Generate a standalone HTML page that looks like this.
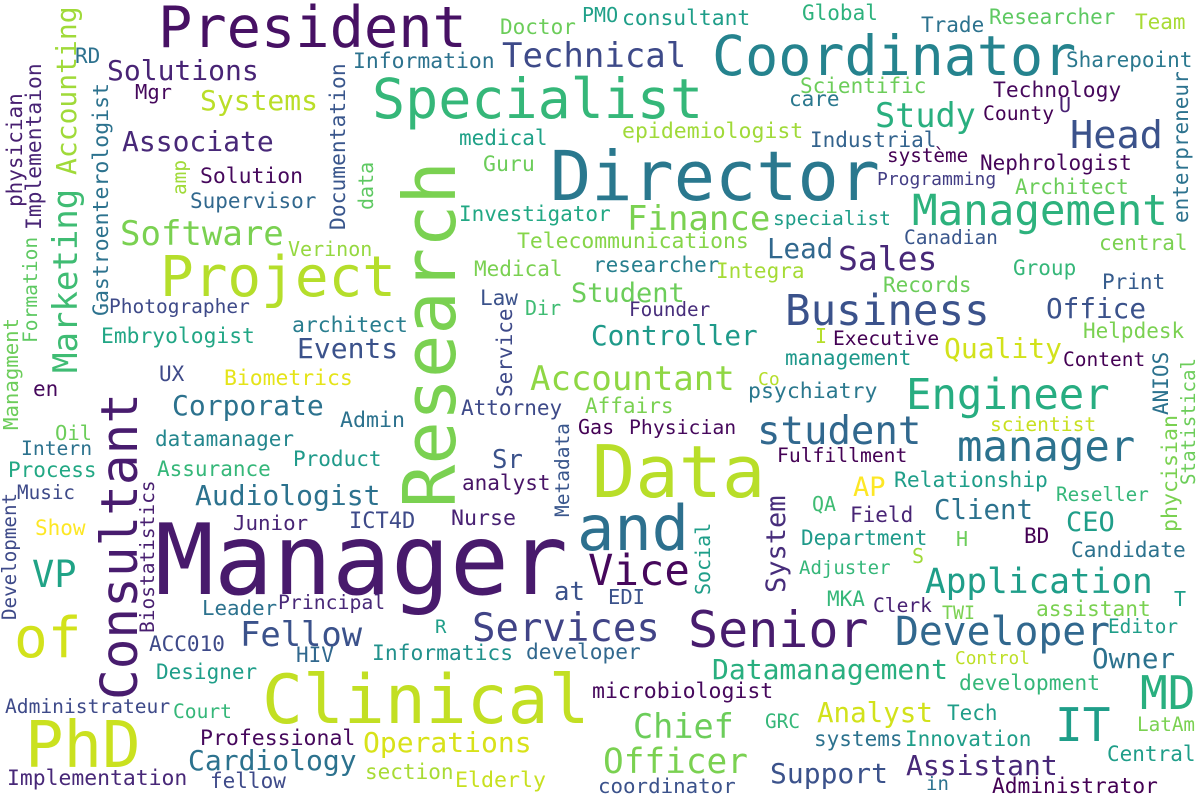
<!DOCTYPE html>
<html><head><meta charset="utf-8"><title>Job title word cloud</title>
<style>
html,body{margin:0;padding:0;background:#fff;}
svg{display:block;}
text{font-family:"DejaVu Sans Mono","Liberation Mono",monospace;}
</style></head>
<body>
<svg width="1200" height="800" viewBox="0 0 1200 800" xmlns="http://www.w3.org/2000/svg">
<rect width="1200" height="800" fill="#fff"/>
<text x="158" y="47" font-size="57" fill="#471164">President</text>
<text x="75" y="63" font-size="21" fill="#2c718e">RD</text>
<text x="107" y="80" font-size="28" fill="#482475">Solutions</text>
<text x="135" y="99" font-size="20.5" fill="#45085c">Mgr</text>
<text x="200" y="110" font-size="28" fill="#bade28">Systems</text>
<text x="122" y="151" font-size="28" fill="#482878">Associate</text>
<text x="200" y="183" font-size="21.4" fill="#46085c">Solution</text>
<text x="190" y="208" font-size="21" fill="#31688e">Supervisor</text>
<text x="120" y="245" font-size="34" fill="#7ad151">Software</text>
<text x="288" y="256" font-size="20" fill="#95d840">Verinon</text>
<text x="160" y="296" font-size="56" fill="#b5de2b">Project</text>
<text x="109" y="313" font-size="19.5" fill="#3e4a89">Photographer</text>
<text x="292" y="332" font-size="21.4" fill="#287d8e">architect</text>
<text x="101" y="343" font-size="21.3" fill="#21a685">Embryologist</text>
<text x="297" y="358" font-size="28" fill="#3b528b">Events</text>
<text x="159" y="381" font-size="21" fill="#3e4a89">UX</text>
<text x="224" y="385" font-size="21.4" fill="#e5e419">Biometrics</text>
<text x="33" y="396" font-size="21" fill="#46085c">en</text>
<text x="500" y="34" font-size="21" fill="#6ccd5a">Doctor</text>
<text x="582" y="22" font-size="20" fill="#1fa088">PMO</text>
<text x="622" y="25" font-size="21.3" fill="#1f9e89">consultant</text>
<text x="502" y="67" font-size="34" fill="#3e4a89">Technical</text>
<text x="353" y="68" font-size="21.4" fill="#2c728e">Information</text>
<text x="372" y="118" font-size="55" fill="#35b779">Specialist</text>
<text x="459" y="145" font-size="21" fill="#1fa187">medical</text>
<text x="622" y="138" font-size="21.5" fill="#a0da39">epidemiologist</text>
<text x="483" y="171" font-size="21.5" fill="#6ccd5a">Guru</text>
<text x="550" y="200" font-size="68.5" fill="#2a788e">Director</text>
<text x="459" y="221" font-size="21" fill="#22a884">Investigator</text>
<text x="627" y="230" font-size="34" fill="#7ad151">Finance</text>
<text x="517" y="248" font-size="21.4" fill="#86d549">Telecommunications</text>
<text x="474" y="276" font-size="21" fill="#7ad151">Medical</text>
<text x="593" y="272" font-size="21" fill="#277f8e">researcher</text>
<text x="716" y="278" font-size="21" fill="#a5db36">Integra</text>
<text x="767" y="258" font-size="27.5" fill="#31688e">Lead</text>
<text x="480" y="305" font-size="21" fill="#3b528b">Law</text>
<text x="525" y="315" font-size="20" fill="#3fbc73">Dir</text>
<text x="571" y="302" font-size="27" fill="#6ccd5a">Student</text>
<text x="629" y="316" font-size="19.3" fill="#472d7b">Founder</text>
<text x="591" y="345" font-size="27.7" fill="#1f9a8a">Controller</text>
<text x="530" y="390" font-size="34" fill="#8fd744">Accountant</text>
<text x="758" y="385" font-size="18" fill="#b5de2b">Co</text>
<text x="785" y="365" font-size="21" fill="#1f988b">management</text>
<text x="748" y="398" font-size="21.5" fill="#2a788e">psychiatry</text>
<text x="802" y="20" font-size="21" fill="#2db27d">Global</text>
<text x="921" y="32" font-size="21" fill="#2c728e">Trade</text>
<text x="989" y="24" font-size="21" fill="#5ec962">Researcher</text>
<text x="1135" y="29" font-size="21" fill="#a8db34">Team</text>
<text x="712" y="75" font-size="55" fill="#25838e">Coordinator</text>
<text x="1066" y="67" font-size="21" fill="#2a788e">Sharepoint</text>
<text x="800" y="93" font-size="21" fill="#6ccd5a">Scientific</text>
<text x="789" y="106" font-size="21" fill="#2a788e">care</text>
<text x="993" y="97" font-size="21.3" fill="#46085c">Technology</text>
<text x="1059" y="112" font-size="20" fill="#482173">U</text>
<text x="983" y="120" font-size="19.7" fill="#440154">County</text>
<text x="875" y="127" font-size="33.5" fill="#29af7f">Study</text>
<text x="1070" y="148" font-size="38.6" fill="#3b528b">Head</text>
<text x="810" y="147" font-size="21" fill="#33638d">Industrial</text>
<text x="887" y="162" font-size="19.3" fill="#440154">système</text>
<text x="980" y="170" font-size="21" fill="#450559">Nephrologist</text>
<text x="877" y="185" font-size="18" fill="#433e85">Programming</text>
<text x="1015" y="194" font-size="21" fill="#6ccd5a">Architect</text>
<text x="912" y="225" font-size="42.5" fill="#2db27d">Management</text>
<text x="773" y="225" font-size="19.6" fill="#1f9e89">specialist</text>
<text x="904" y="244" font-size="19.5" fill="#39568c">Canadian</text>
<text x="838" y="270" font-size="33" fill="#482878">Sales</text>
<text x="1099" y="250" font-size="21" fill="#7ad151">central</text>
<text x="1013" y="275" font-size="21" fill="#35b779">Group</text>
<text x="883" y="292" font-size="21" fill="#6ccd5a">Records</text>
<text x="1102" y="289" font-size="21" fill="#365c8d">Print</text>
<text x="785" y="325" font-size="42.5" fill="#3b528b">Business</text>
<text x="1046" y="318" font-size="27.7" fill="#3b528b">Office</text>
<text x="1083" y="338" font-size="21" fill="#7ad151">Helpdesk</text>
<text x="815" y="343" font-size="20" fill="#b5de2b">I</text>
<text x="833" y="345" font-size="19.6" fill="#440154">Executive</text>
<text x="944" y="358" font-size="28" fill="#d2e21b">Quality</text>
<text x="1063" y="366" font-size="19.5" fill="#440154">Content</text>
<text x="906" y="409" font-size="42.3" fill="#27ad81">Engineer</text>
<text x="172" y="415" font-size="28" fill="#2c728e">Corporate</text>
<text x="340" y="427" font-size="21.6" fill="#2c728e">Admin</text>
<text x="55" y="440" font-size="20.5" fill="#6ccd5a">Oil</text>
<text x="155" y="446" font-size="21" fill="#24878e">datamanager</text>
<text x="21" y="455" font-size="19.7" fill="#2c728e">Intern</text>
<text x="293" y="466" font-size="21" fill="#1f9a8a">Product</text>
<text x="8" y="477" font-size="21" fill="#22a884">Process</text>
<text x="157" y="476" font-size="21" fill="#35b779">Assurance</text>
<text x="17" y="499" font-size="19.3" fill="#3e4a89">Music</text>
<text x="195" y="505" font-size="28" fill="#2c728e">Audiologist</text>
<text x="233" y="530" font-size="20.8" fill="#482475">Junior</text>
<text x="349" y="528" font-size="22" fill="#3e4a89">ICT4D</text>
<text x="35" y="535" font-size="21" fill="#fde725">Show</text>
<text x="32" y="587" font-size="37" fill="#20a386">VP</text>
<text x="155" y="594" font-size="98" fill="#481a6c">Manager</text>
<text x="202" y="615" font-size="20.8" fill="#2c728e">Leader</text>
<text x="278" y="609" font-size="19.8" fill="#482878">Principal</text>
<text x="240" y="646" font-size="33.8" fill="#3b528b">Fellow</text>
<text x="149" y="651" font-size="21" fill="#3e4a89">ACC010</text>
<text x="296" y="662" font-size="21" fill="#31688e">HIV</text>
<text x="372" y="660" font-size="21.3" fill="#21918c">Informatics</text>
<text x="14" y="657" font-size="56" fill="#d2e21b">of</text>
<text x="156" y="679" font-size="21" fill="#1f9e89">Designer</text>
<text x="5" y="713" font-size="19.6" fill="#3e4a89">Administrateur</text>
<text x="173" y="718" font-size="19.6" fill="#35b779">Court</text>
<text x="25" y="767" font-size="64" fill="#cae11f">PhD</text>
<text x="200" y="745" font-size="21.5" fill="#46085c">Professional</text>
<text x="188" y="770" font-size="28" fill="#2c728e">Cardiology</text>
<text x="7" y="785" font-size="21.4" fill="#482878">Implementation</text>
<text x="210" y="788" font-size="21" fill="#3e4a89">fellow</text>
<text x="262" y="723" font-size="68" fill="#c2df23">Clinical</text>
<text x="461" y="415" font-size="21" fill="#3e4a89">Attorney</text>
<text x="585" y="413" font-size="21" fill="#7ad151">Affairs</text>
<text x="578" y="434" font-size="20" fill="#440154">Gas</text>
<text x="629" y="434" font-size="19.8" fill="#46085c">Physician</text>
<text x="492" y="468" font-size="25.7" fill="#3b528b">Sr</text>
<text x="462" y="490" font-size="21" fill="#481467">analyst</text>
<text x="451" y="525" font-size="21.6" fill="#482173">Nurse</text>
<text x="592" y="497" font-size="72" fill="#b8de29">Data</text>
<text x="577" y="550" font-size="62" fill="#2d708e">and</text>
<text x="588" y="585" font-size="42.3" fill="#46085c">Vice</text>
<text x="554" y="600" font-size="25.7" fill="#3b528b">at</text>
<text x="608" y="604" font-size="20.5" fill="#3b528b">EDI</text>
<text x="435" y="633" font-size="19" fill="#1f9e89">R</text>
<text x="472" y="641" font-size="39" fill="#414487">Services</text>
<text x="526" y="659" font-size="21.2" fill="#31688e">developer</text>
<text x="688" y="647" font-size="50" fill="#481c6e">Senior</text>
<text x="712" y="679" font-size="28" fill="#29af7f">Datamanagement</text>
<text x="592" y="698" font-size="21.5" fill="#46085c">microbiologist</text>
<text x="633" y="738" font-size="33.5" fill="#6ccd5a">Chief</text>
<text x="765" y="728" font-size="19.4" fill="#35b779">GRC</text>
<text x="363" y="752" font-size="28" fill="#d8e219">Operations</text>
<text x="603" y="773" font-size="34.4" fill="#7ad151">Officer</text>
<text x="365" y="779" font-size="21" fill="#a8db34">section</text>
<text x="455" y="787" font-size="21.6" fill="#c8e020">Elderly</text>
<text x="598" y="793" font-size="20.8" fill="#3b528b">coordinator</text>
<text x="770" y="783" font-size="28" fill="#3b528b">Support</text>
<text x="757" y="444" font-size="39" fill="#31688e">student</text>
<text x="990" y="431" font-size="19.6" fill="#c8e020">scientist</text>
<text x="777" y="462" font-size="19.7" fill="#440154">Fulfillment</text>
<text x="957" y="461" font-size="42.3" fill="#2c728e">manager</text>
<text x="853" y="496" font-size="27" fill="#fde725">AP</text>
<text x="894" y="487" font-size="21.3" fill="#1f9e89">Relationship</text>
<text x="1056" y="501" font-size="19.3" fill="#35b779">Reseller</text>
<text x="812" y="511" font-size="20" fill="#3fbc73">QA</text>
<text x="850" y="522" font-size="21" fill="#482475">Field</text>
<text x="934" y="519" font-size="27.4" fill="#2c728e">Client</text>
<text x="1066" y="531" font-size="27" fill="#1f9e89">CEO</text>
<text x="1024" y="543" font-size="21" fill="#440154">BD</text>
<text x="801" y="545" font-size="21" fill="#1f9a8a">Department</text>
<text x="956" y="546" font-size="20" fill="#6ccd5a">H</text>
<text x="1071" y="557" font-size="21.2" fill="#2c728e">Candidate</text>
<text x="912" y="563" font-size="20" fill="#a0da39">S</text>
<text x="799" y="574" font-size="19" fill="#35b779">Adjuster</text>
<text x="925" y="593" font-size="34.4" fill="#1f9e89">Application</text>
<text x="827" y="606" font-size="21" fill="#35b779">MKA</text>
<text x="873" y="612" font-size="19.6" fill="#482173">Clerk</text>
<text x="942" y="619" font-size="18.3" fill="#7ad151">TWI</text>
<text x="1036" y="616" font-size="21.2" fill="#7ad151">assistant</text>
<text x="1174" y="606" font-size="20" fill="#1f9e89">T</text>
<text x="895" y="645" font-size="39.7" fill="#31688e">Developer</text>
<text x="1108" y="633" font-size="19.4" fill="#1f9e89">Editor</text>
<text x="1092" y="668" font-size="27.6" fill="#2c728e">Owner</text>
<text x="955" y="664" font-size="17.8" fill="#bddf26">Control</text>
<text x="959" y="690" font-size="21.3" fill="#35b779">development</text>
<text x="1140" y="709" font-size="46" fill="#29af7f">MD</text>
<text x="1055" y="741" font-size="46" fill="#1f9e89">IT</text>
<text x="817" y="722" font-size="27.5" fill="#d2e21b">Analyst</text>
<text x="947" y="720" font-size="21" fill="#1f9e89">Tech</text>
<text x="1137" y="731" font-size="19.3" fill="#7ad151">LatAm</text>
<text x="814" y="746" font-size="21" fill="#2c728e">systems</text>
<text x="905" y="746" font-size="21" fill="#1f9e89">Innovation</text>
<text x="1107" y="761" font-size="21" fill="#1f9e89">Central</text>
<text x="906" y="775" font-size="28" fill="#482878">Assistant</text>
<text x="926" y="790" font-size="19" fill="#2c728e">in</text>
<text x="992" y="793" font-size="21.2" fill="#440154">Administrator</text>
<text transform="translate(77,373) rotate(-90)" font-size="34" fill="#3fbc73">Marketing</text>
<text transform="translate(76,175) rotate(-90)" font-size="28" fill="#a0da39">Accounting</text>
<text transform="translate(22,207) rotate(-90)" font-size="21" fill="#481f70">physician</text>
<text transform="translate(41,230) rotate(-90)" font-size="21.3" fill="#482475">Implementaion</text>
<text transform="translate(108,316) rotate(-90)" font-size="21.5" fill="#2c728e">Gastroenterologist</text>
<text transform="translate(37,343) rotate(-90)" font-size="19.6" fill="#5ec962">Formation</text>
<text transform="translate(18,430) rotate(-90)" font-size="20.7" fill="#6ccd5a">Managment</text>
<text transform="translate(186,195) rotate(-90)" font-size="19.4" fill="#a0da39">amp</text>
<text transform="translate(345,230) rotate(-90)" font-size="21.3" fill="#39568c">Documentation</text>
<text transform="translate(373,210) rotate(-90)" font-size="20" fill="#5ec962">data</text>
<text transform="translate(455,508) rotate(-90)" font-size="72" fill="#7ad151">Research</text>
<text transform="translate(137,700) rotate(-90)" font-size="51" fill="#481c6e">Consultant</text>
<text transform="translate(16,620) rotate(-90)" font-size="19.2" fill="#3e4a89">Development</text>
<text transform="translate(154,633) rotate(-90)" font-size="19.5" fill="#481f70">Biostatistics</text>
<text transform="translate(512,397) rotate(-90)" font-size="21" fill="#3e4a89">Service</text>
<text transform="translate(569,517) rotate(-90)" font-size="19.5" fill="#39568c">Metadata</text>
<text transform="translate(710,595) rotate(-90)" font-size="20" fill="#1f9e89">Social</text>
<text transform="translate(785,593) rotate(-90)" font-size="27" fill="#472d7b">System</text>
<text transform="translate(1188,223) rotate(-90)" font-size="21" fill="#2c728e">enterpreneur</text>
<text transform="translate(1168,415) rotate(-90)" font-size="21" fill="#2c728e">ANIOS</text>
<text transform="translate(1195,485) rotate(-90)" font-size="19.2" fill="#6ccd5a">Statistical</text>
<text transform="translate(1177,532) rotate(-90)" font-size="21.6" fill="#7ad151">phycisian</text>
</svg>
</body></html>
